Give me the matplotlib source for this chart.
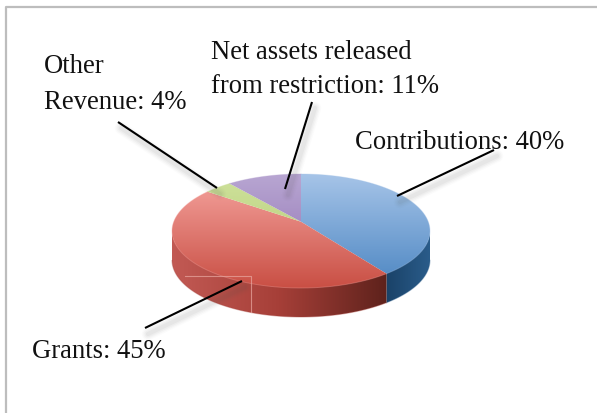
import numpy as np
import matplotlib
matplotlib.use("Agg")
import matplotlib.pyplot as plt
from matplotlib.colors import LinearSegmentedColormap as LSC
from matplotlib.patches import Polygon

categories = ["Contributions", "Grants", "Other\nRevenue", "Net assets released\nfrom restriction"]
values = [40, 45, 4, 11]
top_colors = [("#a6c4e8", "#4c86c2"), ("#f6a5a0", "#c94f44"), ("#cfe29c", "#b0c870"), ("#b8a6d2", "#8c6cb0")]
side_colors = [("#1a4268", "#2a5c8a"), ("#c25a54", "#a63f38", "#5e221c"), ("#7f9a45", "#7f9a45"), ("#5f4a80", "#5f4a80")]

W, H = 597, 414
CX, CY, RX, RY, DEPTH = 301, 232, 129, 57, 29
APEX = 0.163  # perspective offset of the pie centre, in ellipse units

fig = plt.figure(figsize=(W / 100, H / 100), dpi=100)
ax = fig.add_axes([0, 0, 1, 1])
ax.set_xlim(0, W)
ax.set_ylim(H, 0)
ax.axis("off")

# frame
ax.plot([5.5, 5.5, W], [H, 7.5, 7.5], color="#bdbdbd", lw=1.6, solid_capstyle="butt", zorder=1)


def rim(theta):
    """Rim point for clockwise-from-top share angle theta, cast from the off-centre apex."""
    dx, dy = np.sin(theta), np.cos(theta)
    b = APEX * dy
    t = -b + np.sqrt(b * b + 1 - APEX * APEX)
    return dx * t, APEX + dy * t


def to_px(nx, ny, drop=0.0):
    return CX + RX * nx, CY - RY * ny + drop


def grad(colors, extent, horizontal, clip, z):
    cmap = LSC.from_list("c", colors)
    g = np.linspace(0, 1, 256)
    arr = g[None, :] if horizontal else g[:, None]
    im = ax.imshow(arr, cmap=cmap, extent=extent, aspect="auto", zorder=z, interpolation="bilinear")
    patch = Polygon(clip, closed=True, transform=ax.transData, fc="none", ec="none")
    ax.add_patch(patch)
    im.set_clip_path(patch)


shares = np.array(values) / sum(values) * 2 * np.pi
edges = np.concatenate([[0], np.cumsum(shares)])

# side walls
for i in range(len(values)):
    th = np.linspace(edges[i], edges[i + 1], 160)
    nx, ny = rim(th)
    ang = np.mod(np.arctan2(nx, ny), 2 * np.pi)
    keep = (ang >= np.pi / 2) & (ang <= 3 * np.pi / 2)
    if keep.sum() < 2:
        continue
    x, y = to_px(nx[keep], ny[keep])
    _, yd = to_px(nx[keep], ny[keep], DEPTH)
    poly = np.vstack([np.c_[x, y - 1], np.c_[x, yd][::-1]])
    cols = list(side_colors[i])
    grad(cols, (x.min(), x.max(), yd.max() + 1, y.min() - 1), True, poly, 3)
    ax.plot(x, yd, color=cols[len(cols) // 2], lw=0.8, alpha=0.35, zorder=3.1)

# top faces
for i in range(len(values)):
    th = np.linspace(edges[i], edges[i + 1], 160)
    nx, ny = rim(th)
    x, y = to_px(nx, ny)
    ax_, ay_ = to_px(0.0, APEX)
    poly = np.vstack([[ax_, ay_], np.c_[x, y]])
    grad(list(top_colors[i]), (CX - RX, CX + RX, CY + RY, CY - RY), False, poly, 4)
    ax.plot(x, y, color=top_colors[i][0], lw=0.7, alpha=0.35, zorder=4.1)

# faint selection box remnant
ax.plot([185, 251, 251], [277, 277, 313], color="#e9a9a2", lw=0.8, alpha=0.7, zorder=5)

# leader lines with soft shadow
leaders = [((494, 151), (397, 197)), ((145, 329), (242, 282)), ((118, 123), (217, 189)), ((312, 103), (285, 190))]
for (x0, y0), (x1, y1) in leaders:
    for w, a in [(9, 0.02), (7, 0.03), (5, 0.04), (3, 0.05)]:
        ax.plot([x0 + 3, x1 + 3], [y0 + 6, y1 + 6], color="#555555", lw=w, alpha=a, zorder=5, solid_capstyle="round")
    ax.plot([x0, x1], [y0, y1], color="black", lw=1.5, zorder=6, solid_capstyle="butt")

# labels
label_pos = [(355, 149), (32, 358.5), (44, 109), (211, 93)]
label_spacing = [1.6, 1.6, 1.6, 1.45]
for name, v, (lx, ly), ls in zip(categories, values, label_pos, label_spacing):
    ax.text(lx, ly, f"{name}: {v}%", family="Liberation Serif", fontsize=19.2, color="#111111",
            ha="left", va="baseline", linespacing=ls, zorder=7)

ax.set_xlim(0, W)
ax.set_ylim(H, 0)
fig.savefig("out.png", dpi=100)
